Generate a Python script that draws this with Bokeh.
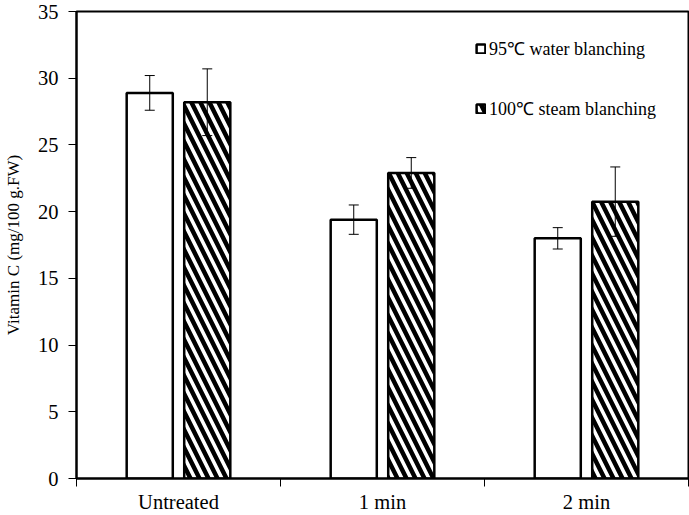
from bokeh.plotting import figure
from bokeh.models import (ColumnDataSource, Whisker, TeeHead, FixedTicker, Legend,
                          LegendItem, Range1d)
from bokeh.transform import dodge
from bokeh.embed import file_html
from bokeh.resources import INLINE

categories = ["Untreated", "1 min", "2 min"]
water_mean = [28.9, 19.4, 18.0]
water_err = [1.3, 1.1, 0.8]
steam_mean = [28.2, 22.9, 20.75]
steam_err = [2.5, 1.15, 2.6]
y_ticks = [0, 5, 10, 15, 20, 25, 30, 35]
series_labels = ["95\u2103 water blanching", "100\u2103 steam blanching"]

FONT = "Liberation Serif"

x = [i + 0.5 for i in range(len(categories))]
src = ColumnDataSource(dict(
    x=x,
    water=water_mean,
    water_lo=[m - e for m, e in zip(water_mean, water_err)],
    water_hi=[m + e for m, e in zip(water_mean, water_err)],
    steam=steam_mean,
    steam_lo=[m - e for m, e in zip(steam_mean, steam_err)],
    steam_hi=[m + e for m, e in zip(steam_mean, steam_err)],
))

p = figure(width=689, height=515, x_range=Range1d(0, len(categories)), y_range=Range1d(0, 35),
           output_backend="svg", toolbar_location=None,
           min_border_left=76, min_border_right=1, min_border_top=11, min_border_bottom=20,
           styles={"position": "absolute", "left": "0px", "top": "0px"})
p.xgrid.visible = False
p.ygrid.visible = False
p.outline_line_color = "black"
p.outline_line_width = 2
p.background_fill_color = "white"

off = 0.141
bw = 0.226
r1 = p.vbar(x=dodge("x", -off, range=p.x_range), top="water", width=bw, bottom=0, source=src,
            fill_color="white", line_color="black", line_width=2.5)
r2 = p.vbar(x=dodge("x", off, range=p.x_range), top="steam", width=bw, bottom=0, source=src,
            fill_color="white", line_color="black", line_width=2.5,
            hatch_pattern="left_diagonal_line", hatch_color="black", hatch_weight=4.5, hatch_scale=18)

for col, o in (("water", -off), ("steam", off)):
    w = Whisker(source=src, base=dodge("x", o, range=p.x_range), upper=col + "_hi", lower=col + "_lo",
                line_width=1, line_color="black", level="annotation",
                upper_head=TeeHead(size=10, line_width=1, line_color="black"),
                lower_head=TeeHead(size=10, line_width=1, line_color="black"))
    p.add_layout(w)

# y axis
yax = p.yaxis[0]
yax.ticker = FixedTicker(ticks=y_ticks, minor_ticks=[])
yax.axis_line_width = 2
yax.major_tick_out = 8
yax.major_tick_in = 0
yax.major_tick_line_width = 1
yax.minor_tick_line_color = None
yax.major_label_standoff = 10
yax.major_label_text_font = FONT
yax.major_label_text_font_size = "20.5px"
yax.major_label_text_color = "black"
yax.axis_label = "Vitamin C (mg/100 g.FW)"
yax.axis_label_text_font = FONT
yax.axis_label_text_font_size = "17px"
yax.axis_label_text_font_style = "normal"
yax.axis_label_text_color = "black"
yax.axis_label_standoff = 12

# x axis
xax = p.xaxis[0]
xax.ticker = FixedTicker(ticks=x, minor_ticks=list(range(len(categories) + 1)))
xax.major_label_overrides = {xi: c for xi, c in zip(x, categories)}
xax.axis_line_width = 2
xax.major_tick_out = 0
xax.major_tick_in = 0
xax.minor_tick_out = 8
xax.minor_tick_in = 0
xax.minor_tick_line_color = "black"
xax.minor_tick_line_width = 1
xax.major_label_standoff = 4
xax.major_label_text_font = FONT
xax.major_label_text_font_size = "20.5px"
xax.major_label_text_color = "black"

legend = Legend(items=[LegendItem(label=series_labels[0], renderers=[r1]),
                       LegendItem(label=series_labels[1], renderers=[r2])],
                location=(399, 358), border_line_color=None, background_fill_alpha=0,
                glyph_width=11, glyph_height=11, label_text_font=FONT,
                label_text_font_size="18px", label_text_color="black",
                spacing=36, padding=0, margin=0, label_standoff=3)
p.add_layout(legend)

open("out.html", "w").write(file_html(p, INLINE))
